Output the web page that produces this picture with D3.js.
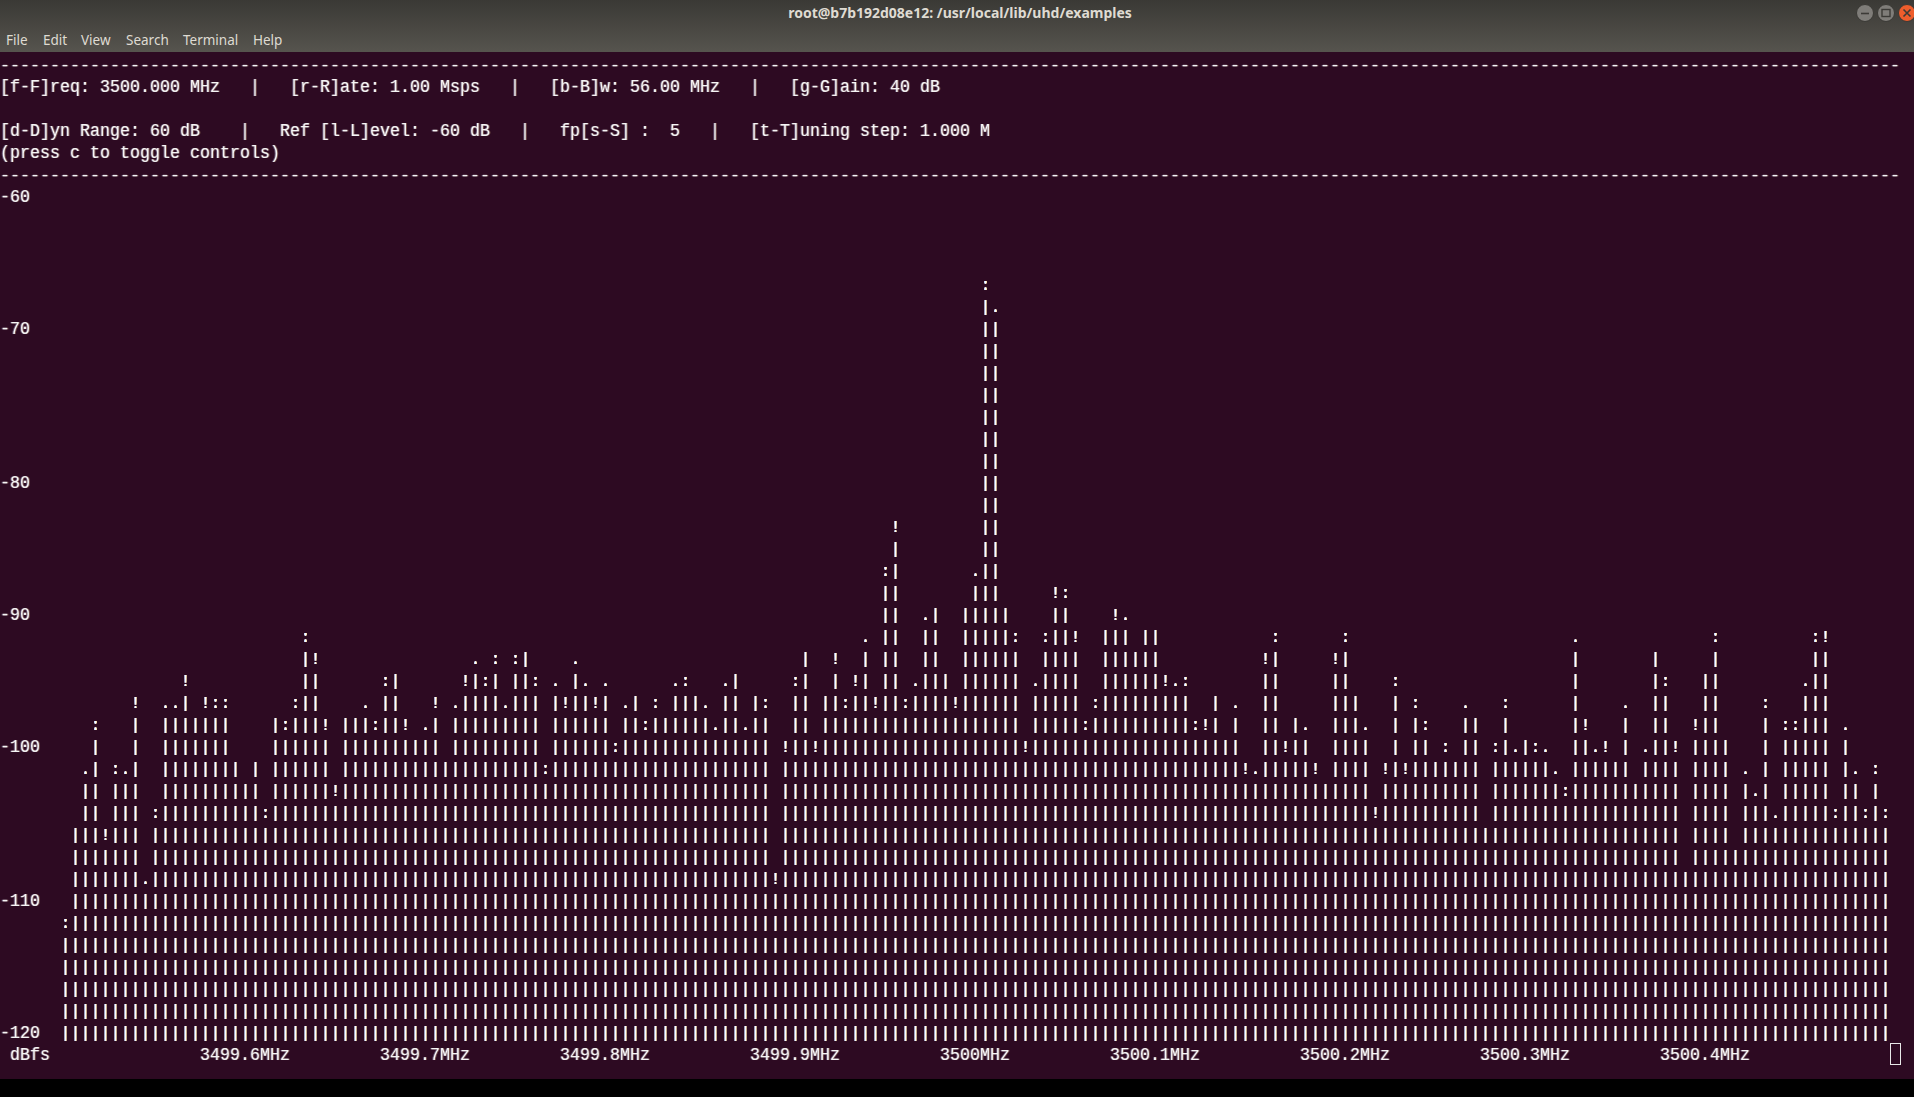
<!DOCTYPE html>
<html><head><meta charset="utf-8">
<script src="https://cdn.jsdelivr.net/npm/d3@7"></script>
<style>
html,body{margin:0;padding:0;background:#000;overflow:hidden}
svg{display:block}
.term{font-family:"Liberation Mono","DejaVu Sans Mono",monospace;font-size:16.66px;fill:#f6f6f6;white-space:pre}
.tall{font-size:19px}
.ui{font-family:"Noto Sans","Open Sans",sans-serif;font-size:13.5px;fill:#dfdbd2}
</style></head><body>
<svg id="chart" width="1914" height="1097"></svg>
<script>
// ---------------- data ----------------
const windowTitle = "root@b7b192d08e12: /usr/local/lib/uhd/examples";
const menuItems = ["File","Edit","View","Search","Terminal","Help"];
const headerLines = [
  "[f-F]req: 3500.000 MHz   |   [r-R]ate: 1.00 Msps   |   [b-B]w: 56.00 MHz   |   [g-G]ain: 40 dB",
  "",
  "[d-D]yn Range: 60 dB    |   Ref [l-L]evel: -60 dB   |   fp[s-S] :  5   |   [t-T]uning step: 1.000 M",
  "(press c to toggle controls)"
];
const yTicks = [-60, -70, -80, -90, -100, -110, -120];
const yUnit = "dBfs";
const freqTicks = [3499.6, 3499.7, 3499.8, 3499.9, 3500.0, 3500.1, 3500.2, 3500.3, 3500.4];
const freqLabels = ["3499.6MHz","3499.7MHz","3499.8MHz","3499.9MHz","3500MHz","3500.1MHz","3500.2MHz","3500.3MHz","3500.4MHz"];
const freqSpan = [3499.5, 3500.5];
const dbRange = [-120, -60];
// one value (dBfs) per FFT bin, 183 bins across 3499.5 .. 3500.5 MHz
const spectrumDb = [
 -112.7,-105.6,-102.1,-98.5,-106.0,-101.7,-102.1,-96.6,-110.0,-104.8,
 -97.3,-97.3,-95.0,-97.7,-96.6,-97.0,-97.0,-100.9,-102.5,-100.9,
 -104.8,-97.7,-98.5,-97.0,-92.2,-93.4,-98.1,-102.9,-97.7,-97.7,
 -97.3,-98.5,-95.4,-94.6,-98.1,-99.3,-98.9,-96.6,-100.9,-97.3,
 -95.0,-94.2,-95.4,-93.8,-97.3,-93.8,-93.0,-95.4,-101.7,-95.8,
 -96.6,-94.2,-95.8,-96.6,-95.8,-100.1,-97.3,-96.2,-98.5,-97.0,
 -97.7,-95.8,-95.4,-96.2,-97.3,-98.9,-95.8,-94.6,-98.9,-96.2,
 -97.0,-109.2,-99.7,-95.4,-93.0,-99.7,-96.2,-93.4,-97.0,-95.0,
 -92.6,-96.6,-87.5,-83.9,-97.0,-95.8,-91.0,-89.8,-94.6,-96.6,
 -89.8,-87.9,-67.0,-68.9,-89.8,-92.2,-99.7,-95.8,-92.2,-88.7,
 -89.1,-91.8,-98.5,-97.0,-91.4,-90.2,-91.0,-93.0,-91.4,-91.4,
 -95.0,-95.8,-95.4,-98.5,-98.1,-96.2,-99.3,-97.3,-101.3,-102.1,
 -93.4,-92.2,-99.7,-97.7,-98.9,-101.3,-102.5,-93.4,-92.2,-96.2,
 -98.9,-104.4,-101.3,-95.4,-101.3,-97.0,-98.5,-100.9,-100.1,-100.9,
 -97.3,-97.7,-105.6,-100.1,-97.0,-100.5,-99.3,-100.1,-100.5,-102.1,
 -103.3,-92.6,-98.1,-100.5,-99.7,-100.9,-97.3,-102.5,-100.5,-93.0,
 -95.4,-99.7,-108.8,-98.1,-94.6,-92.2,-99.3,-107.2,-102.1,-103.7,
 -97.0,-105.2,-98.5,-98.5,-95.8,-92.2,-91.8,-104.8,-98.9,-102.1,
 -104.8,-101.7,-104.8
];

// ---------------- layout ----------------
const W = 1914, H = 1097;
const CW = 10, RH = 22, TOP = 52, TERM_BOTTOM = 1079, NCOLS = 190;
const baseline = r => TOP + r * RH + 18;
const svg = d3.select("#chart");
const defs = svg.append("defs");

const g1 = defs.append("linearGradient").attr("id","tb").attr("x1",0).attr("y1",0).attr("x2",0).attr("y2",1);
g1.append("stop").attr("offset","0").attr("stop-color","#3a3935");
g1.append("stop").attr("offset","1").attr("stop-color","#56544e");

// subpixel colour fringes of the terminal text
(function(){
  const f = defs.append("filter").attr("id","fringeText").attr("x","-2%").attr("y","-20%").attr("width","104%").attr("height","140%");
  f.append("feColorMatrix").attr("in","SourceGraphic").attr("type","matrix")
   .attr("values","0 0 0 0 0.5  0 0 0 0 0.62  0 0 0 0 1  0 0 0 0.35 0").attr("result","blue");
  f.append("feOffset").attr("in","blue").attr("dx",-1).attr("result","b1");
  f.append("feColorMatrix").attr("in","SourceGraphic").attr("type","matrix")
   .attr("values","0 0 0 0 1  0 0 0 0 0.65  0 0 0 0 0.3  0 0 0 0.35 0").attr("result","orange");
  f.append("feOffset").attr("in","orange").attr("dx",1).attr("result","o1");
  const fm = f.append("feMerge");
  fm.append("feMergeNode").attr("in","b1");
  fm.append("feMergeNode").attr("in","o1");
  fm.append("feMergeNode").attr("in","SourceGraphic");
})();
// bar glyphs: bluish left pixel, warm right pixel (LCD subpixel look)
(function(){
  const f = defs.append("filter").attr("id","fringeBar").attr("x","-2%").attr("y","-2%").attr("width","104%").attr("height","104%");
  f.append("feColorMatrix").attr("in","SourceGraphic").attr("type","matrix")
   .attr("values","0 0 0 0 0.58  0 0 0 0 0.72  0 0 0 0 1  0 0 0 1 0").attr("result","blue");
  f.append("feColorMatrix").attr("in","SourceGraphic").attr("type","matrix")
   .attr("values","0 0 0 0 1  0 0 0 0 0.8  0 0 0 0 0.45  0 0 0 1 0").attr("result","orange");
  f.append("feOffset").attr("in","orange").attr("dx",1).attr("result","o1");
  f.append("feComposite").attr("in","blue").attr("in2","o1").attr("operator","arithmetic")
   .attr("k1",0).attr("k2",1).attr("k3",1).attr("k4",0);
})();

// background
svg.append("rect").attr("width",W).attr("height",H).attr("fill","#000");
svg.append("rect").attr("x",0).attr("y",0).attr("width",W).attr("height",TOP).attr("fill","url(#tb)");
svg.append("rect").attr("x",0).attr("y",TOP).attr("width",W).attr("height",TERM_BOTTOM-TOP).attr("fill","#2d0a22");

// title + menu
svg.append("text").attr("class","ui").attr("x",960).attr("y",18).attr("text-anchor","middle")
  .attr("font-weight","bold").style("font-size","14px").text(windowTitle);
const menuX = [6, 43, 81, 126, 183, 253];
svg.append("g").selectAll("text").data(menuItems).join("text").attr("class","ui")
  .attr("x",(d,i)=>menuX[i]).attr("y",45).text(d=>d);

// window buttons
const btn = svg.append("g");
[[1865,"#7f7d79"],[1886,"#7f7d79"],[1907,"#ee5d2c"]].forEach(([cx,c])=>{
  btn.append("circle").attr("cx",cx).attr("cy",13).attr("r",8.5).attr("fill",c).attr("stroke","#3a3935").attr("stroke-width",1);
});
btn.append("line").attr("x1",1861).attr("x2",1869).attr("y1",13.5).attr("y2",13.5).attr("stroke","#3c3b37").attr("stroke-width",1.6);
btn.append("rect").attr("x",1882).attr("y",9.5).attr("width",8).attr("height",7).attr("fill","none").attr("stroke","#3c3b37").attr("stroke-width",1.4);
btn.append("path").attr("d","M1903.5,9.5L1910.5,16.5M1910.5,9.5L1903.5,16.5").attr("stroke","#3c3b37").attr("stroke-width",1.6);

// terminal text (condensed, like the terminal font)
const term = svg.append("g").attr("filter","url(#fringeText)");
function termText(sel){
  return sel.attr("class","term tall")
    .attr("textLength",d=>d.s.length ? d.s.length*CW : null)
    .attr("lengthAdjust","spacingAndGlyphs")
    .attr("x",d=>d.x).attr("y",d=>d.y).text(d=>d.s);
}
// dashed separator rows, one dash per cell
const dashCells = [];
[0,5].forEach(r=>{ for(let c=0;c<NCOLS;c++) dashCells.push({col:c,row:r}); });
term.selectAll("text.dash").data(dashCells).join("text").attr("class","term dash")
  .attr("x",d=>d.col*CW).attr("y",d=>baseline(d.row)).text("-");
termText(term.selectAll("text.hdr").data(headerLines.map((s,i)=>({s, x:0, y:baseline(i+1)}))).join("text"));

// y axis labels snapped to rows
const rowScale = d3.scaleLinear().domain(dbRange).range([44, 6]);
termText(term.selectAll("text.ytick").data(yTicks.map(v=>({s:String(v), x:0, y:baseline(Math.round(rowScale(v)))}))).join("text"));
termText(term.append("text").datum({s:yUnit, x:CW, y:baseline(45)}));

// x axis labels
const xScale = d3.scaleLinear().domain(freqSpan).range([6*CW, 189*CW]);
termText(term.selectAll("text.xtick").data(freqTicks.map((f,i)=>({
  s:freqLabels[i], x:Math.round((xScale(f) - freqLabels[i].length*CW/2)/CW)*CW, y:baseline(45)}))).join("text"));

// spectrum as character cells
const bars = svg.append("g").attr("filter","url(#fringeBar)");
const nb = spectrumDb.length;
const cells = [];
spectrumDb.forEach((v,i)=>{
  const fq = freqSpan[0] + (i+0.5)*(freqSpan[1]-freqSpan[0])/nb;
  const col = Math.floor(xScale(fq)/CW);
  const h = 44 - rowScale(v) + 1;
  for (let k=0;k<=38;k++){
    const fill = h - k;
    const c = fill>=1?'|':fill>=0.75?'!':fill>=0.5?':':fill>=0.25?'.':null;
    if(!c) break;
    cells.push({col, row:44-k, c});
  }
});
bars.selectAll("text.cell").data(cells).join("text").attr("class","term cell")
  .attr("x",d=>d.col*CW).attr("y",d=>baseline(d.row)).text(d=>d.c);

// cursor
svg.append("rect").attr("x",189*CW+0.5).attr("y",TOP+45*RH+1.5).attr("width",CW).attr("height",RH-1)
  .attr("fill","none").attr("stroke","#e8e8e8").attr("stroke-width",1);
</script>
</body></html>
